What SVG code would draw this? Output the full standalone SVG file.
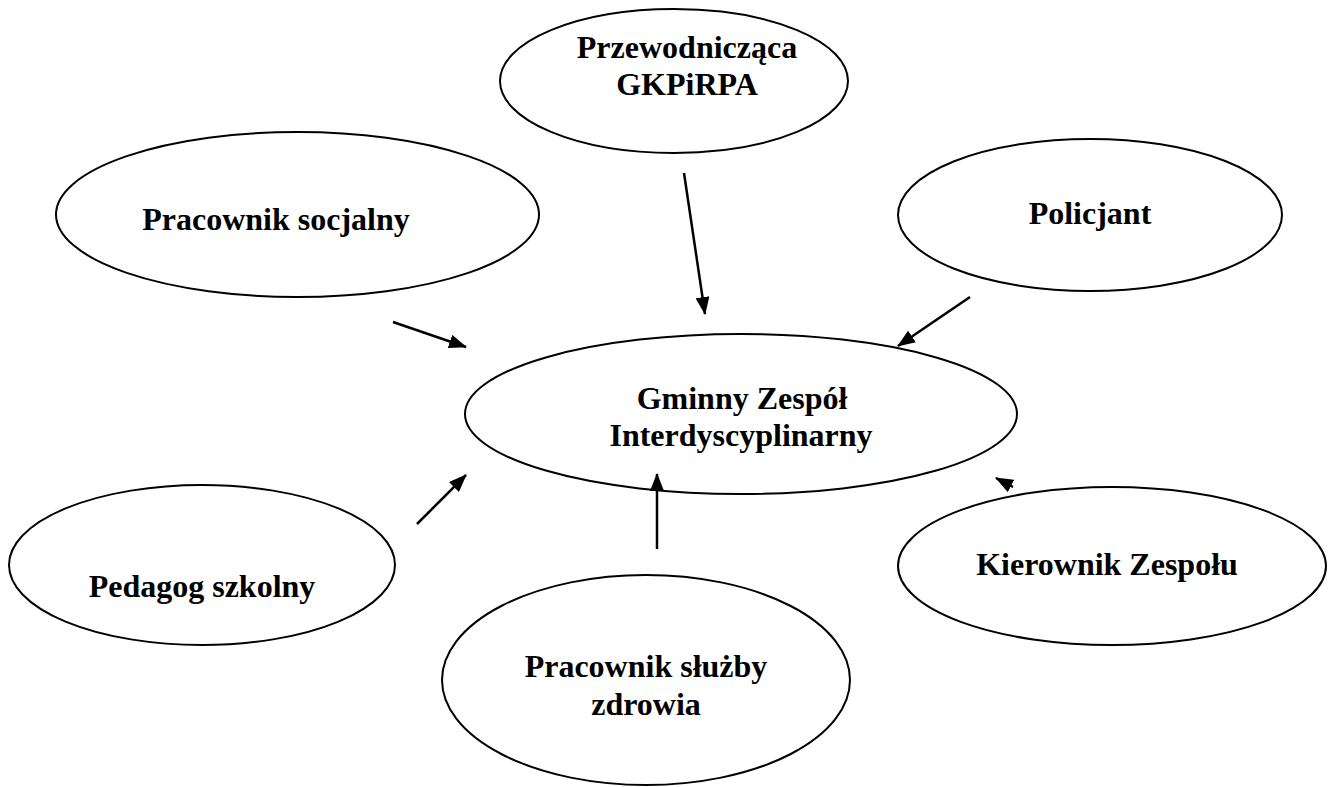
<svg xmlns="http://www.w3.org/2000/svg" width="1335" height="787" viewBox="0 0 1335 787">
<defs>
<style>
.n{fill:#fff;stroke:#000;stroke-width:2}
.t{font-family:"Liberation Serif",serif;font-weight:bold;font-size:32px;fill:#000;text-anchor:middle}
.c{stroke:#000;stroke-width:2.5;fill:none;marker-end:url(#a)}
</style>
<marker id="a" viewBox="0 0 18 14" refX="17" refY="7" markerWidth="18" markerHeight="14" orient="auto" markerUnits="userSpaceOnUse">
<path d="M0,0 L18,7 L0,14 z" fill="#000"/>
</marker>
</defs>
<rect width="1335" height="787" fill="#fff"/>
<g id="przewodniczaca"><ellipse class="n" cx="674" cy="81" rx="174" ry="72"/><text class="t" x="687" y="58">Przewodnicząca</text><text class="t" x="687" y="95">GKPiRPA</text></g>
<g id="socjalny"><ellipse class="n" cx="297.5" cy="214.5" rx="241.5" ry="82.5"/><text class="t" x="276" y="230">Pracownik socjalny</text></g>
<g id="policjant"><ellipse class="n" cx="1090" cy="215" rx="192" ry="76"/><text class="t" x="1090" y="224">Policjant</text></g>
<g id="gzi"><ellipse class="n" cx="741" cy="414" rx="276" ry="80"/><text class="t" x="742" y="409">Gminny Zespół</text><text class="t" x="741" y="446">Interdyscyplinarny</text></g>
<g id="pedagog"><ellipse class="n" cx="202" cy="565" rx="193" ry="80"/><text class="t" x="202" y="597">Pedagog szkolny</text></g>
<g id="zdrowie"><ellipse class="n" cx="646" cy="680" rx="204" ry="105"/><text class="t" x="646" y="677">Pracownik służby</text><text class="t" x="646" y="715">zdrowia</text></g>
<g id="kierownik"><ellipse class="n" cx="1112" cy="566" rx="214" ry="79"/><text class="t" x="1107" y="575">Kierownik Zespołu</text></g>
<g id="connectors">
<line class="c" x1="393" y1="322" x2="466" y2="347"/>
<line class="c" x1="684" y1="173" x2="705" y2="314"/>
<line class="c" x1="970" y1="297" x2="898" y2="346"/>
<line class="c" x1="417" y1="524" x2="466" y2="475"/>
<line class="c" x1="657" y1="549" x2="657" y2="474"/>
<line class="c" x1="1013" y1="487" x2="996" y2="478"/>
</g>
</svg>
